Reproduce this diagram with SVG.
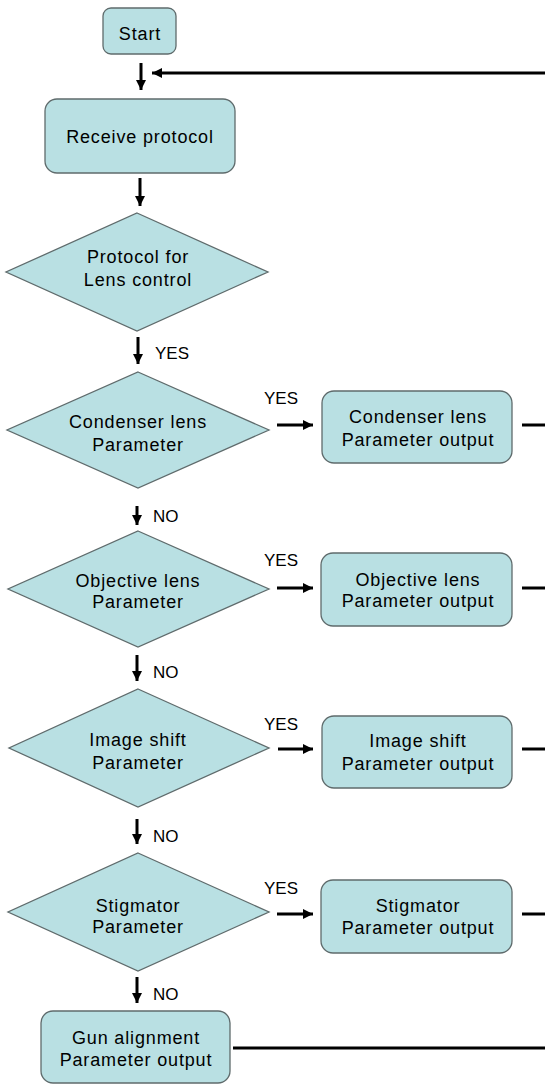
<svg xmlns="http://www.w3.org/2000/svg" width="545" height="1084" viewBox="0 0 545 1084">
<style>
.n{fill:#b9e0e3;stroke:#5f6b6c;stroke-width:1.3}
.t{font-family:"Liberation Sans",Arial,sans-serif;font-size:18px;letter-spacing:0.85px;fill:#000;text-anchor:middle}
.l{font-family:"Liberation Sans",Arial,sans-serif;font-size:17px;fill:#000}
.c{stroke:#000;stroke-width:3;fill:none}
.a{stroke:#000;stroke-width:3;fill:none;marker-end:url(#ah)}
</style>
<defs>
<marker id="ah" viewBox="0 0 10 10" refX="10" refY="5" markerWidth="10" markerHeight="10" markerUnits="userSpaceOnUse" orient="auto">
<path d="M0,0 L10,5 L0,10 z" fill="#000"/>
</marker>
</defs>
<rect width="545" height="1084" fill="#fff"/>
<g id="start"><rect class="n" x="103" y="8" width="73" height="46" rx="8"/><text class="t" x="140" y="40">Start</text></g>
<g id="receive"><rect class="n" x="45" y="99" width="190" height="74" rx="12"/><text class="t" x="140" y="143">Receive protocol</text></g>
<g id="d1"><polygon class="n" points="137,213 268,272 137,331 6,272"/><text class="t" x="138" y="263">Protocol for</text><text class="t" x="138" y="286">Lens control</text></g>
<g id="d2"><polygon class="n" points="138,372 269,430 138,488 7,430"/><text class="t" x="138" y="428">Condenser lens</text><text class="t" x="138" y="451">Parameter</text></g>
<g id="d3"><polygon class="n" points="138,531 269,589 138,647 8,589"/><text class="t" x="138" y="587">Objective lens</text><text class="t" x="138" y="608">Parameter</text></g>
<g id="d4"><polygon class="n" points="138,689 269,748 138,807 9,748"/><text class="t" x="138" y="746">Image shift</text><text class="t" x="138" y="769">Parameter</text></g>
<g id="d5"><polygon class="n" points="138,853 269,912 138,971 8,912"/><text class="t" x="138" y="912">Stigmator</text><text class="t" x="138" y="933">Parameter</text></g>
<g id="b2"><rect class="n" x="322" y="391" width="190" height="72" rx="12"/><text class="t" x="418" y="423">Condenser lens</text><text class="t" x="418" y="446">Parameter output</text></g>
<g id="b3"><rect class="n" x="321" y="553" width="191" height="73" rx="12"/><text class="t" x="418" y="586">Objective lens</text><text class="t" x="418" y="607">Parameter output</text></g>
<g id="b4"><rect class="n" x="322" y="716" width="190" height="72" rx="12"/><text class="t" x="418" y="747">Image shift</text><text class="t" x="418" y="770">Parameter output</text></g>
<g id="b5"><rect class="n" x="321" y="880" width="191" height="73" rx="12"/><text class="t" x="418" y="912">Stigmator</text><text class="t" x="418" y="934">Parameter output</text></g>
<g id="gun"><rect class="n" x="41" y="1011" width="189" height="72" rx="12"/><text class="t" x="136" y="1044">Gun alignment</text><text class="t" x="136" y="1066">Parameter output</text></g>
<g id="connectors">
<line class="a" x1="141" y1="63" x2="141" y2="90"/>
<line class="a" x1="545" y1="73" x2="152" y2="73"/>
<line class="a" x1="140" y1="178" x2="140" y2="206"/>
<line class="a" x1="138" y1="337" x2="138" y2="364"/>
<line class="a" x1="137" y1="506" x2="137" y2="525"/>
<line class="a" x1="137" y1="655" x2="137" y2="681"/>
<line class="a" x1="137" y1="819" x2="137" y2="844"/>
<line class="a" x1="137" y1="977" x2="137" y2="1003"/>
<line class="a" x1="277" y1="425" x2="313" y2="425"/>
<line class="a" x1="277" y1="588" x2="313" y2="588"/>
<line class="a" x1="278" y1="749" x2="313" y2="749"/>
<line class="a" x1="277" y1="914" x2="313" y2="914"/>
<line class="c" x1="522" y1="425" x2="545" y2="425"/>
<line class="c" x1="522" y1="588" x2="545" y2="588"/>
<line class="c" x1="522" y1="749" x2="545" y2="749"/>
<line class="c" x1="522" y1="914" x2="545" y2="914"/>
<line class="c" x1="233" y1="1048" x2="545" y2="1048"/>
<text class="l" x="155" y="359">YES</text>
<text class="l" x="153" y="522">NO</text>
<text class="l" x="153" y="678">NO</text>
<text class="l" x="153" y="842">NO</text>
<text class="l" x="153" y="1000">NO</text>
<text class="l" x="264" y="404">YES</text>
<text class="l" x="264" y="566">YES</text>
<text class="l" x="264" y="730">YES</text>
<text class="l" x="264" y="894">YES</text>
</g>
</svg>
